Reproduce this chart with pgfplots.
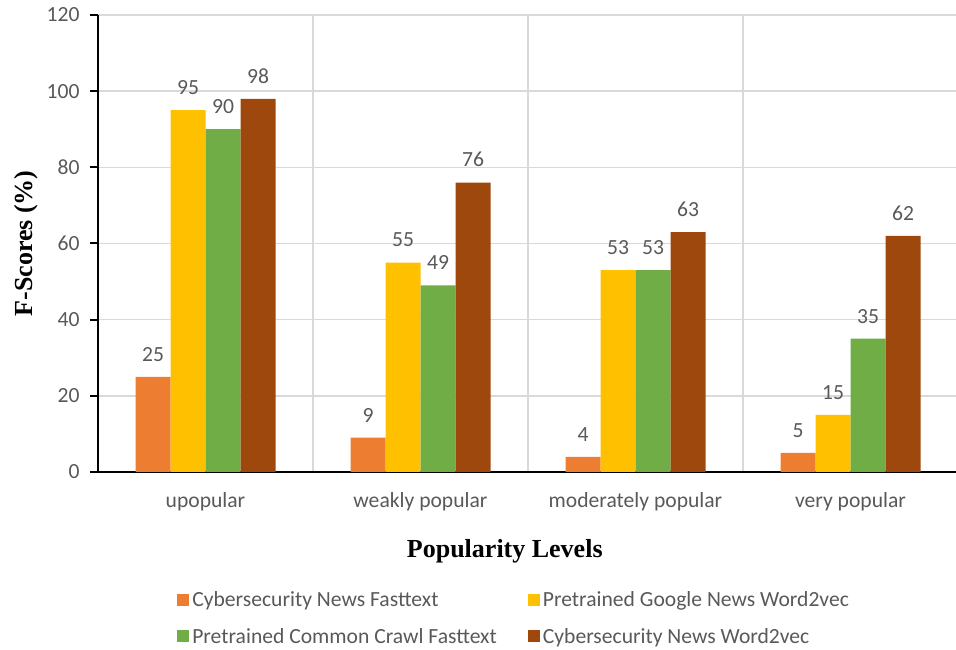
\documentclass[border=0pt]{standalone}
\usepackage{pgfplots}
\pgfplotsset{compat=1.18}
\usepackage{fontspec}
\setmainfont{Carlito}
\newfontfamily\titlefont{Liberation Serif}

\definecolor{cOrange}{HTML}{ED7D31}
\definecolor{cYellow}{HTML}{FFC000}
\definecolor{cGreen}{HTML}{70AD47}
\definecolor{cBrown}{HTML}{9E480E}
\definecolor{gridgray}{HTML}{D9D9D9}
\definecolor{txtgray}{HTML}{595959}

\newcommand{\lbl}{\fontsize{21.6}{26}\selectfont}

\begin{document}
\begin{tikzpicture}
\useasboundingbox (0,0) rectangle (956pt,650pt);
\begin{axis}[
  at={(98pt,178pt)}, anchor=south west,
  scale only axis,
  width=860pt, height=457pt,
  ybar=0pt, bar width=35pt,
  xmin=-0.5, xmax=3.5,
  ymin=0, ymax=120,
  ytick={0,20,...,120},
  xtick={0,1,2,3},
  xticklabels={upopular, weakly popular, moderately popular, very popular},
  minor xtick={0.5,1.5,2.5,3.5},
  xmajorgrids=false, xminorgrids=true, ymajorgrids=true,
  grid style={gridgray, line width=1.6pt},
  minor grid style={gridgray, line width=1.6pt},
  axis x line*=bottom, axis y line*=left,
  axis line style={black, line width=2.2pt, -},
  x axis line style={line width=2pt},
  major x tick style={draw=none},
  minor x tick style={draw=none},
  y tick style={black, line width=2pt},
  tick align=outside, major tick length=8pt,
  /pgf/number format/assume math mode=true,
  tick label style={font=\lbl, text=txtgray},
  yticklabel style={xshift=-7pt},
  xticklabel style={yshift=-9pt},
  xlabel={Popularity Levels},
  ylabel={F-Scores (\%)},
  xlabel style={font=\titlefont\bfseries\fontsize{26}{30}\selectfont,
    at={(axis description cs:0.473,-0.173)}, anchor=center},
  ylabel style={font=\titlefont\bfseries\fontsize{26}{30}\selectfont,
    at={(axis description cs:-0.083,0.5)}, anchor=center},
  nodes near coords,
  nodes near coords style={font=\lbl, text=txtgray, yshift=12pt},
  legend columns=2,
  legend cell align=left,
  legend style={
    at={(axis description cs:0.092,-0.255)}, anchor=north west,
    draw=none, fill=none, font=\lbl, text=txtgray,
    row sep=14pt, inner sep=0pt,
    nodes={inner sep=3pt},
    /tikz/every even column/.append style={column sep=28pt},
  },
  legend image code/.code={\fill[#1, draw=none] (-4pt,-6pt) rectangle (8pt,6pt);},
]
% one series per embedding model, four popularity levels each
\addplot[fill=cOrange, draw=none] coordinates {(0,25) (1,9) (2,4) (3,5)};
\addplot[fill=cYellow, draw=none] coordinates {(0,95) (1,55) (2,53) (3,15)};
\addplot[fill=cGreen, draw=none] coordinates {(0,90) (1,49) (2,53) (3,35)};
\addplot[fill=cBrown, draw=none] coordinates {(0,98) (1,76) (2,63) (3,62)};
\legend{Cybersecurity News Fasttext, Pretrained Google News Word2vec,
  Pretrained Common Crawl Fasttext, Cybersecurity News Word2vec}
\end{axis}
\end{tikzpicture}
\end{document}
